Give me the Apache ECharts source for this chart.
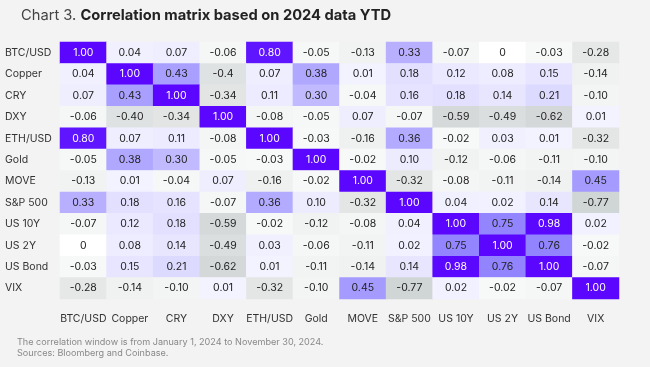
<!DOCTYPE html>
<html>
<head>
<meta charset="utf-8">
<script src="https://cdn.jsdelivr.net/npm/echarts@6/dist/echarts.min.js"></script>
<style>
html,body{margin:0;padding:0;background:#f3f3f3;}
#chart{width:650px;height:367px;}
</style>
</head>
<body>
<div id="chart"></div>
<script>
const categories = ['BTC/USD','Copper','CRY','DXY','ETH/USD','Gold','MOVE','S&P 500','US 10Y','US 2Y','US Bond','VIX'];
const rowBTC    = ['1.00','0.04','0.07','-0.06','0.80','-0.05','-0.13','0.33','-0.07','0','-0.03','-0.28'];
const rowCopper = ['0.04','1.00','0.43','-0.4','0.07','0.38','0.01','0.18','0.12','0.08','0.15','-0.14'];
const rowCRY    = ['0.07','0.43','1.00','-0.34','0.11','0.30','-0.04','0.16','0.18','0.14','0.21','-0.10'];
const rowDXY    = ['-0.06','-0.40','-0.34','1.00','-0.08','-0.05','0.07','-0.07','-0.59','-0.49','-0.62','0.01'];
const rowETH    = ['0.80','0.07','0.11','-0.08','1.00','-0.03','-0.16','0.36','-0.02','0.03','0.01','-0.32'];
const rowGold   = ['-0.05','0.38','0.30','-0.05','-0.03','1.00','-0.02','0.10','-0.12','-0.06','-0.11','-0.10'];
const rowMOVE   = ['-0.13','0.01','-0.04','0.07','-0.16','-0.02','1.00','-0.32','-0.08','-0.11','-0.14','0.45'];
const rowSP     = ['0.33','0.18','0.16','-0.07','0.36','0.10','-0.32','1.00','0.04','0.02','0.14','-0.77'];
const rowUS10Y  = ['-0.07','0.12','0.18','-0.59','-0.02','-0.12','-0.08','0.04','1.00','0.75','0.98','0.02'];
const rowUS2Y   = ['0','0.08','0.14','-0.49','0.03','-0.06','-0.11','0.02','0.75','1.00','0.76','-0.02'];
const rowUSBond = ['-0.03','0.15','0.21','-0.62','0.01','-0.11','-0.14','0.14','0.98','0.76','1.00','-0.07'];
const rowVIX    = ['-0.28','-0.14','-0.10','0.01','-0.32','-0.10','0.45','-0.77','0.02','-0.02','-0.07','1.00'];
const matrix = [rowBTC,rowCopper,rowCRY,rowDXY,rowETH,rowGold,rowMOVE,rowSP,rowUS10Y,rowUS2Y,rowUSBond,rowVIX];

const stops = [
  [-0.8,[207,212,212]],
  [-0.6,[212,216,216]],
  [-0.3,[229,231,231]],
  [-0.05,[246,247,247]],
  [-0.001,[248,249,249]],
  [0,[255,255,255]],
  [0.005,[243,242,255]],
  [0.1,[237,236,255]],
  [0.2,[224,221,255]],
  [0.33,[184,176,255]],
  [0.45,[165,155,255]],
  [0.76,[146,132,255]],
  [0.79,[95,22,255]],
  [1.0,[90,6,255]]
];
function colorFor(v){
  if (v <= stops[0][0]) return 'rgb('+stops[0][1].join(',')+')';
  for (let i=1;i<stops.length;i++){
    if (v <= stops[i][0]){
      const a=stops[i-1], b=stops[i];
      const t=(v-a[0])/(b[0]-a[0]);
      const c=a[1].map((x,k)=>Math.round(x+(b[1][k]-x)*t));
      return 'rgb('+c.join(',')+')';
    }
  }
  return 'rgb('+stops[stops.length-1][1].join(',')+')';
}

const data = [];
matrix.forEach((row, r) => {
  row.forEach((s, c) => {
    const v = parseFloat(s);
    data.push({
      name: s,
      value: [c, r, v],
      itemStyle: { color: colorFor(v) },
      label: { color: v >= 0.78 ? '#ffffff' : '#222222' }
    });
  });
});

const chart = echarts.init(document.getElementById('chart'));
chart.setOption({
  backgroundColor: '#f3f3f3',
  animation: false,
  textStyle: { fontFamily: 'Inter, "Noto Sans", sans-serif' },
  title: {
    text: '{n|Chart 3. }{b|Correlation matrix based on 2024 data YTD}',
    left: 16, top: 3,
    textStyle: {
      rich: {
        n: { fontSize: 14.7, color: '#444', fontFamily: 'Inter', fontWeight: 'normal' },
        b: { fontSize: 14.7, color: '#222', fontFamily: 'Inter', fontWeight: 'bold' }
      }
    }
  },
  graphic: [
    { type: 'text', left: 17, top: 338, style: { text: 'The correlation window is from January 1, 2024 to November 30, 2024.', fill: '#888', font: '9.1px Inter' } },
    { type: 'text', left: 17, top: 349, style: { text: 'Sources: Bloomberg and Coinbase.', fill: '#888', font: '9.1px Inter' } }
  ],
  grid: { left: 60, top: 42, width: 559, height: 257 },
  xAxis: {
    type: 'category', data: categories,
    axisLine: { show: false }, axisTick: { show: false }, splitLine: { show: false },
    axisLabel: { color: '#333', fontSize: 10.5, margin: 14, interval: 0, fontFamily: 'Inter' }
  },
  yAxis: {
    type: 'category', data: categories, inverse: true,
    axisLine: { show: false }, axisTick: { show: false }, splitLine: { show: false },
    axisLabel: { color: '#333', fontSize: 10.5, margin: 55, align: 'left', interval: 0, fontFamily: 'Inter' }
  },
  series: [{
    type: 'heatmap',
    data: data,
    label: {
      show: true, fontSize: 10.5, fontFamily: 'Inter',
      formatter: p => p.name
    },
    emphasis: { disabled: true }
  }]
});
</script>
</body>
</html>
